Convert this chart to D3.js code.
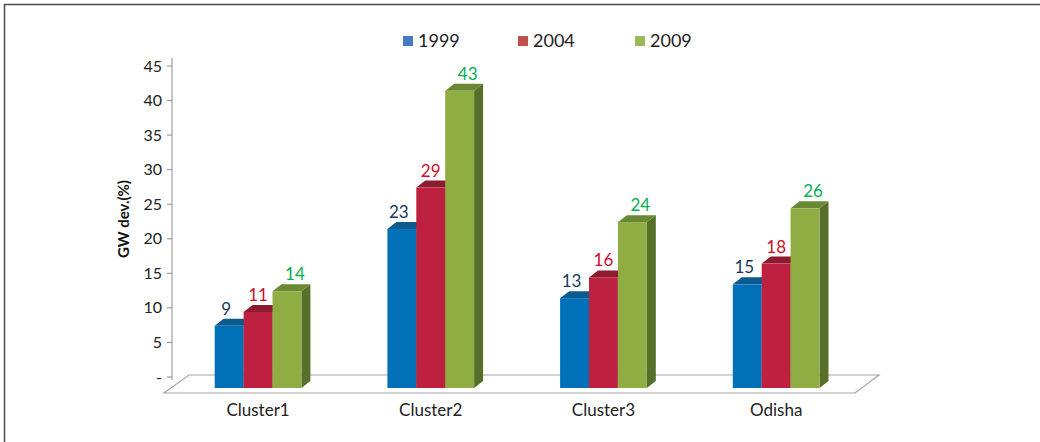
<!DOCTYPE html>
<html>
<head>
<meta charset="utf-8">
<script src="https://cdn.jsdelivr.net/npm/d3@7"></script>
<style>
  body { margin: 0; background: #fff; }
  svg { display: block; font-family: Lato, "Open Sans", sans-serif; }
</style>
</head>
<body>
<script>
// chart data
var categories = ["Cluster1", "Cluster2", "Cluster3", "Odisha"];
var years = ["1999", "2004", "2009"];
var v1999 = [9, 23, 13, 15];
var v2004 = [11, 29, 16, 18];
var v2009 = [14, 43, 24, 26];
var yTicks = [0, 5, 10, 15, 20, 25, 30, 35, 40, 45];

var series = [v1999, v2004, v2009];

var width = 1040, height = 442;

// colours per series: front, top, side, label, legend
var front = ["#0070b9", "#be2140", "#8fad42"];
var top_ = ["#0c5a8e", "#8c1b2f", "#6b8934"];
var side = ["#0a4f7d", "#7d1829", "#566f2b"];
var labelCol = ["#17375e", "#c8102e", "#00b050"];
var legendCol = ["#4579c0", "#c0504d", "#9bbb59"];
var labelShift = [-3, 0, 8];

var svg = d3.select("body").append("svg")
  .attr("width", width)
  .attr("height", height);

// outer frame
svg.append("rect")
  .attr("x", 4.5).attr("y", 4.5)
  .attr("width", width + 10).attr("height", height + 10)
  .attr("fill", "none")
  .attr("stroke", "#4a4a4a")
  .attr("stroke-width", 1.5);

// back-plane scale (axis) and the front offset of the bars
var y = d3.scaleLinear().domain([0, 45]).range([377, 66]);
var frontOff = 11;
var dx = 9, dy = -7;

var x0 = d3.scaleBand().domain(categories).range([171.7, 862.5]);
var groupW = 86.7;
var x1 = d3.scaleBand().domain(years).range([0, groupW]);

// floor
var floorBack = y(0) - 2, floorFront = y(0) + 16;
svg.append("path")
  .attr("d", "M189," + floorBack + "L879," + floorBack + "L855," + floorFront + "L164," + floorFront + "Z")
  .attr("fill", "#fff")
  .attr("stroke", "#a6a6a6")
  .attr("stroke-width", 1.2);

// y axis
var axis = svg.append("g").attr("transform", "translate(172,0)");
axis.append("line")
  .attr("x1", 0).attr("x2", 0)
  .attr("y1", y(45) - 8).attr("y2", y(0) + 3)
  .attr("stroke", "#8c8c8c");
axis.selectAll(".tk").data(yTicks).enter().append("line")
  .attr("x1", -5).attr("x2", 0)
  .attr("y1", function (d) { return y(d); })
  .attr("y2", function (d) { return y(d); })
  .attr("stroke", "#8c8c8c");
axis.selectAll(".tl").data(yTicks).enter().append("text")
  .attr("x", -10)
  .attr("y", function (d) { return y(d); })
  .attr("dy", "0.35em")
  .attr("text-anchor", "end")
  .attr("font-size", 16)
  .attr("fill", "#222")
  .text(function (d) { return d === 0 ? "-" : d; });

svg.append("text")
  .attr("transform", "translate(129," + 219 + ") rotate(-90)")
  .attr("text-anchor", "middle")
  .attr("font-size", 15)
  .attr("font-weight", "bold")
  .attr("fill", "#111")
  .text("GW dev.(%)");

// bars
var groups = svg.selectAll(".grp").data(categories).enter().append("g")
  .attr("transform", function (d) {
    return "translate(" + (x0(d) + x0.bandwidth() / 2 - groupW / 2) + ",0)";
  });

groups.each(function (cat, ci) {
  var g = d3.select(this);
  years.forEach(function (yr, si) {
    var v = series[si][ci];
    var bx = x1(yr), bw = x1.bandwidth();
    var yt = y(v) + frontOff, yb = y(0) + frontOff;
    // side face
    g.append("path")
      .attr("d", "M" + (bx + bw) + "," + yt + "L" + (bx + bw + dx) + "," + (yt + dy) +
        "L" + (bx + bw + dx) + "," + (yb + dy) + "L" + (bx + bw) + "," + yb + "Z")
      .attr("fill", side[si]);
    // top face
    g.append("path")
      .attr("d", "M" + bx + "," + yt + "L" + (bx + dx) + "," + (yt + dy) +
        "L" + (bx + bw + dx) + "," + (yt + dy) + "L" + (bx + bw) + "," + yt + "Z")
      .attr("fill", top_[si]);
    // front face
    g.append("rect")
      .attr("x", bx).attr("y", yt)
      .attr("width", bw).attr("height", yb - yt)
      .attr("fill", front[si]);
    // value label
    g.append("text")
      .attr("x", bx + bw / 2 + labelShift[si])
      .attr("y", yt - 17)
      .attr("dy", "0.35em")
      .attr("text-anchor", "middle")
      .attr("font-size", 17)
      .attr("fill", labelCol[si])
      .text(v);
  });
});

// category labels
svg.selectAll(".cat").data(categories).enter().append("text")
  .attr("x", function (d) { return x0(d) + x0.bandwidth() / 2; })
  .attr("y", 410)
  .attr("dy", "0.35em")
  .attr("text-anchor", "middle")
  .attr("font-size", 17)
  .attr("fill", "#222")
  .text(function (d) { return d; });

// legend
var legendX = [403, 518, 635];
var legend = svg.selectAll(".lg").data(years).enter().append("g")
  .attr("transform", function (d, i) { return "translate(" + legendX[i] + ",41)"; });
legend.append("rect")
  .attr("x", 0).attr("y", -5)
  .attr("width", 10).attr("height", 10)
  .attr("fill", function (d, i) { return legendCol[i]; });
legend.append("text")
  .attr("x", 15).attr("y", 0)
  .attr("dy", "0.35em")
  .attr("font-size", 18)
  .attr("fill", "#222")
  .text(function (d) { return d; });
</script>
</body>
</html>
